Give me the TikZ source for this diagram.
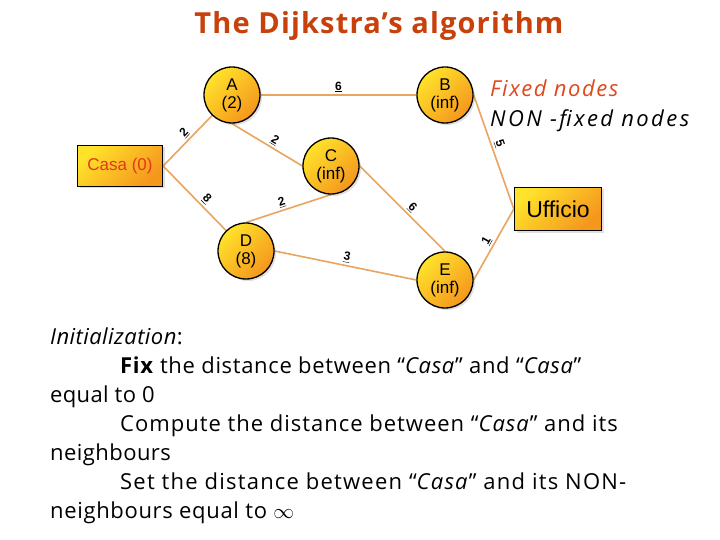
\documentclass[tikz,border=0pt]{standalone}
\usepackage{fontspec}
\setmainfont{Open Sans}
\newfontfamily\arialf{Liberation Sans}
\usetikzlibrary{shadows,backgrounds}
\definecolor{edgec}{HTML}{EBA45E}
\definecolor{titlec}{HTML}{C8410B}
\definecolor{fixc}{HTML}{E0471C}
\definecolor{gyel}{HTML}{FFE22A}
\definecolor{gora}{HTML}{F5961E}
\definecolor{casac}{HTML}{E2381A}
\tikzset{
  x=1pt,y=-1pt,
  vnode/.style={circle,draw=black,line width=1.3pt,minimum size=56pt,inner sep=0pt,
    top color=gyel,bottom color=gora,shading angle=45,
    drop shadow={opacity=0.25,shadow xshift=2pt,shadow yshift=-2pt},
    font=\arialf\fontsize{17}{18}\selectfont,align=center},
  bnode/.style={rectangle,draw=black,line width=1.3pt,inner sep=0pt,
    top color=gyel,bottom color=gora,shading angle=45,
    drop shadow={opacity=0.25,shadow xshift=2pt,shadow yshift=-2pt}},
  edgeline/.style={draw=edgec,line width=1.6pt},
  wlabel/.style={sloped,above,inner sep=2pt,font=\arialf\bfseries\fontsize{12}{13}\selectfont},
  bodyline/.style={anchor=base west,inner sep=0pt,font=\fontsize{22}{24}\selectfont\addfontfeatures{LetterSpace=#1}},
  bodyline/.default=3,
}
\begin{document}
\begin{tikzpicture}
\useasboundingbox (0,0) rectangle (720,540);

\node[anchor=base,inner sep=0pt,text=titlec,font=\bfseries\fontsize{29}{31}\selectfont\addfontfeatures{LetterSpace=4}] (title) at (379,34) {The Dijkstra's algorithm};

% nodes
\node[bnode,minimum width=85pt,minimum height=41pt,text=casac,font=\arialf\fontsize{17}{18}\selectfont] (casa) at (120,166) {Casa (0)};
\node[bnode,minimum width=87pt,minimum height=43pt,font=\arialf\fontsize{23}{24}\selectfont] (uff) at (558,209) {Ufficio};
\node[vnode] (A) at (232,95) {A\\(2)};
\node[vnode] (B) at (445,95) {B\\(inf)};
\node[vnode] (C) at (331,166) {C\\(inf)};
\node[vnode] (D) at (246,251) {D\\(8)};
\node[vnode] (E) at (445,280) {E\\(inf)};

% edges behind nodes
\begin{scope}[on background layer]
\fill[white] (0,0) rectangle (720,540);
\path[edgeline] (casa.east) -- node[wlabel,pos=0.55]{\underline{2}} (A);
\path[edgeline] (casa.east) -- node[wlabel,pos=0.6]{\underline{8}} (D);
\path[edgeline] (A.east) -- node[wlabel]{\underline{6}} (B.west);
\path[edgeline] (A.south) -- node[wlabel,pos=0.55]{\underline{2}} (C.west);
\path[edgeline] (D.north) -- node[wlabel,pos=0.45]{\underline{2}} (C.south);
\path[edgeline] (D.east) -- node[wlabel]{\underline{3}} (E.west);
\path[edgeline] (C.east) -- node[wlabel,pos=0.55]{\underline{6}} (E.north);
\path[edgeline] (B.east) -- node[wlabel,pos=0.45]{\underline{5}} (uff.west);
\path[edgeline] (E.east) -- node[wlabel,pos=0.5]{\underline{1}} (uff.west);
\end{scope}

% legend
\node[anchor=base west,inner sep=0pt,text=fixc,font=\itshape\fontsize{22}{24}\selectfont\addfontfeatures{LetterSpace=7}] (fixed) at (490,97) {Fixed nodes};
\node[anchor=base west,inner sep=0pt,font=\itshape\fontsize{22}{24}\selectfont\addfontfeatures{LetterSpace=11}] (nonfixed) at (490,127) {NON -fixed nodes};

% body text
\node[bodyline=2] (l1) at (50,344) {\textit{Initialization}:};
\node[bodyline=3] (l2) at (120,373) {\textbf{Fix} the distance between “\textit{Casa}” and “\textit{Casa}”};
\node[bodyline=1.5] (l3) at (50,402) {equal to 0};
\node[bodyline=4.5] (l4) at (120,431) {Compute the distance between “\textit{Casa}” and its};
\node[bodyline=2] (l5) at (50,460) {neighbours};
\node[bodyline=5.5] (l6) at (120,489) {Set the distance between “\textit{Casa}” and its NON-};
\node[bodyline=3] (l7) at (50,518) {neighbours equal to $\infty$};
\end{tikzpicture}
\end{document}
